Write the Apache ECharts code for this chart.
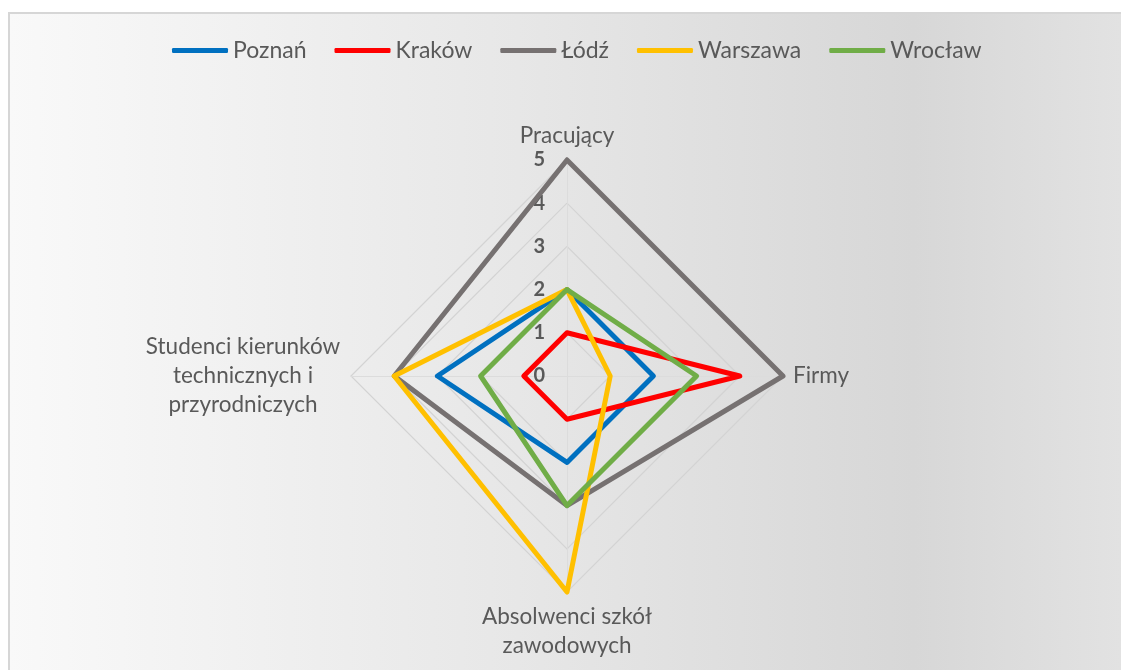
<!DOCTYPE html>
<html>
<head>
<meta charset="utf-8">
<script src="https://cdn.jsdelivr.net/npm/echarts@6/dist/echarts.min.js"></script>
<style>html,body{margin:0;padding:0;background:#fff;}#c{width:1121px;height:670px;}</style>
</head>
<body>
<div id="c"></div>
<script>
// Indicators listed counter-clockwise from the top (ECharts radar order)
const indicators = ['Pracujący', 'Studenci kierunków\ntechnicznych i\nprzyrodniczych', 'Absolwenci szkół\nzawodowych', 'Firmy'];
const seriesNames = ['Poznań', 'Kraków', 'Łódź', 'Warszawa', 'Wrocław'];
const poznan   = [2, 3, 2, 2];
const krakow   = [1, 1, 1, 4];
const lodz     = [5, 4, 3, 5];
const warszawa = [2, 4, 5, 1];
const wroclaw  = [2, 2, 3, 3];
const seriesValues = [poznan, krakow, lodz, warszawa, wroclaw];
const colors = ['#0070C0', '#FF0000', '#767171', '#FFC000', '#70AD47'];
const axisMax = 5;

const FONT = 'Lato';
const FS = 22.5;
const chart = echarts.init(document.getElementById('c'), null, {renderer: 'canvas'});
const option = {
  animation: false,
  color: colors,
  graphic: [{
    type: 'rect', z: -100, silent: true,
    shape: {x: 9, y: 13, width: 1130, height: 680},
    style: {
      fill: {type: 'linear', x: 0, y: 0, x2: 1, y2: 0,
        colorStops: [
          {offset: 0, color: '#f9f9f9'},
          {offset: 0.45, color: '#e7e7e7'},
          {offset: 0.8, color: '#d7d7d7'},
          {offset: 1, color: '#e3e3e3'}
        ]},
      stroke: '#d6d6d6', lineWidth: 2
    }
  }],
  legend: {
    data: seriesNames,
    top: 34,
    left: 167,
    itemWidth: 56,
    itemHeight: 5,
    itemGap: 28,
    icon: 'roundRect',
    textStyle: {fontFamily: FONT, fontSize: 23, color: '#595959'}
  },
  radar: {
    center: [567, 376],
    radius: 216,
    startAngle: 90,
    shape: 'polygon',
    splitNumber: 5,
    indicator: indicators.map((t, i) => {
      const o = {name: t, min: 0, max: axisMax};
      if (i === 0) o.axisLabel = {show: true};
      return o;
    }),
    axisName: {
      fontFamily: FONT, fontSize: FS, color: '#595959', lineHeight: 29,
      formatter: function (name) {
        if (name.indexOf('Studenci') === 0) {
          return name.split('\n').map(s => '{c|' + s + '}').join('\n');
        }
        return name;
      },
      rich: {c: {fontFamily: FONT, fontSize: FS, color: '#595959', lineHeight: 29, align: 'center', width: 196}}
    },
    nameGap: 10,
    splitLine: {lineStyle: {color: '#d3d3d3', width: 1.2}},
    splitArea: {show: false},
    axisLine: {show: true, lineStyle: {color: '#dcdcdc', width: 1}},
    axisTick: {show: false},
    axisLabel: {show: false, fontFamily: FONT, fontSize: 20, fontWeight: 'bold', color: '#595959', margin: 22}
  },
  series: [{
    type: 'radar',
    symbol: 'none',
    emphasis: {disabled: true},
    data: seriesNames.map((n, i) => ({
      name: n,
      value: seriesValues[i],
      lineStyle: {color: colors[i], width: 5, join: 'round', cap: 'round'},
      itemStyle: {color: colors[i]}
    }))
  }]
};
chart.setOption(option);
</script>
</body>
</html>
